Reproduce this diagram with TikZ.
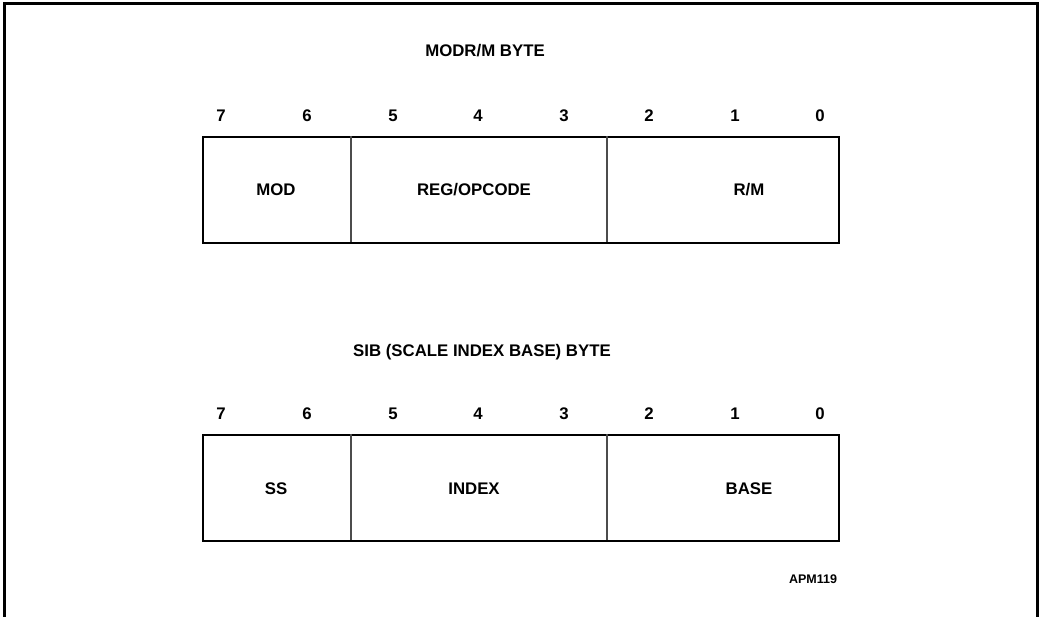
\documentclass[tikz,border=0pt]{standalone}
\usepackage{fontspec}
\setmainfont{Liberation Sans}
\begin{document}
\begin{tikzpicture}[x=1pt,y=-1pt,
  lbl/.style={anchor=base,inner sep=0pt,font=\fontsize{16.8}{18}\selectfont\bfseries},
  small/.style={anchor=base,inner sep=0pt,font=\fontsize{12.5}{14}\selectfont\bfseries},
  outer/.style={line width=2pt,line join=miter},
  divider/.style={line width=1.1pt,draw=black!70},
  frame/.style={line width=3pt}]
\useasboundingbox (0,0) rectangle (1042,617);
% frame
\draw[frame] (4,617) -- (4,4) -- (1037,4) -- (1037,617);

% ModR/M byte
\node[lbl] (t1) at (485,57) {MODR/M BYTE};
\foreach \b/\x in {7/221,6/307,5/393,4/478,3/564,2/649,1/735,0/820}
  \node[lbl] (a\b) at (\x,122) {\b};
\node[outer,draw,minimum width=636pt,minimum height=106pt,inner sep=0pt,anchor=north west] (box1) at (202,136) {};
\coordinate (d1t) at (351,136); \coordinate (d1b) at (351,242);
\coordinate (d2t) at (607,136); \coordinate (d2b) at (607,242);
\draw[divider] (d1t) -- (d1b);
\draw[divider] (d2t) -- (d2b);
\node[lbl] (mod) at (276,196) {MOD};
\node[lbl] (reg) at (474,196) {REG/OPCODE};
\node[lbl] (rm) at (749,196) {R/M};

% SIB byte
\node[lbl] (t2) at (482,357) {SIB (SCALE INDEX BASE) BYTE};
\foreach \b/\x in {7/221,6/307,5/393,4/478,3/564,2/649,1/735,0/820}
  \node[lbl] (b\b) at (\x,420) {\b};
\node[outer,draw,minimum width=636pt,minimum height=106pt,inner sep=0pt,anchor=north west] (box2) at (202,434) {};
\coordinate (e1t) at (351,434); \coordinate (e1b) at (351,540);
\coordinate (e2t) at (607,434); \coordinate (e2b) at (607,540);
\draw[divider] (e1t) -- (e1b);
\draw[divider] (e2t) -- (e2b);
\node[lbl] (ss) at (276,494) {SS};
\node[lbl] (idx) at (474,494) {INDEX};
\node[lbl] (base) at (749,494) {BASE};

\node[small] (apm) at (813,583) {APM119};
\end{tikzpicture}
\end{document}
